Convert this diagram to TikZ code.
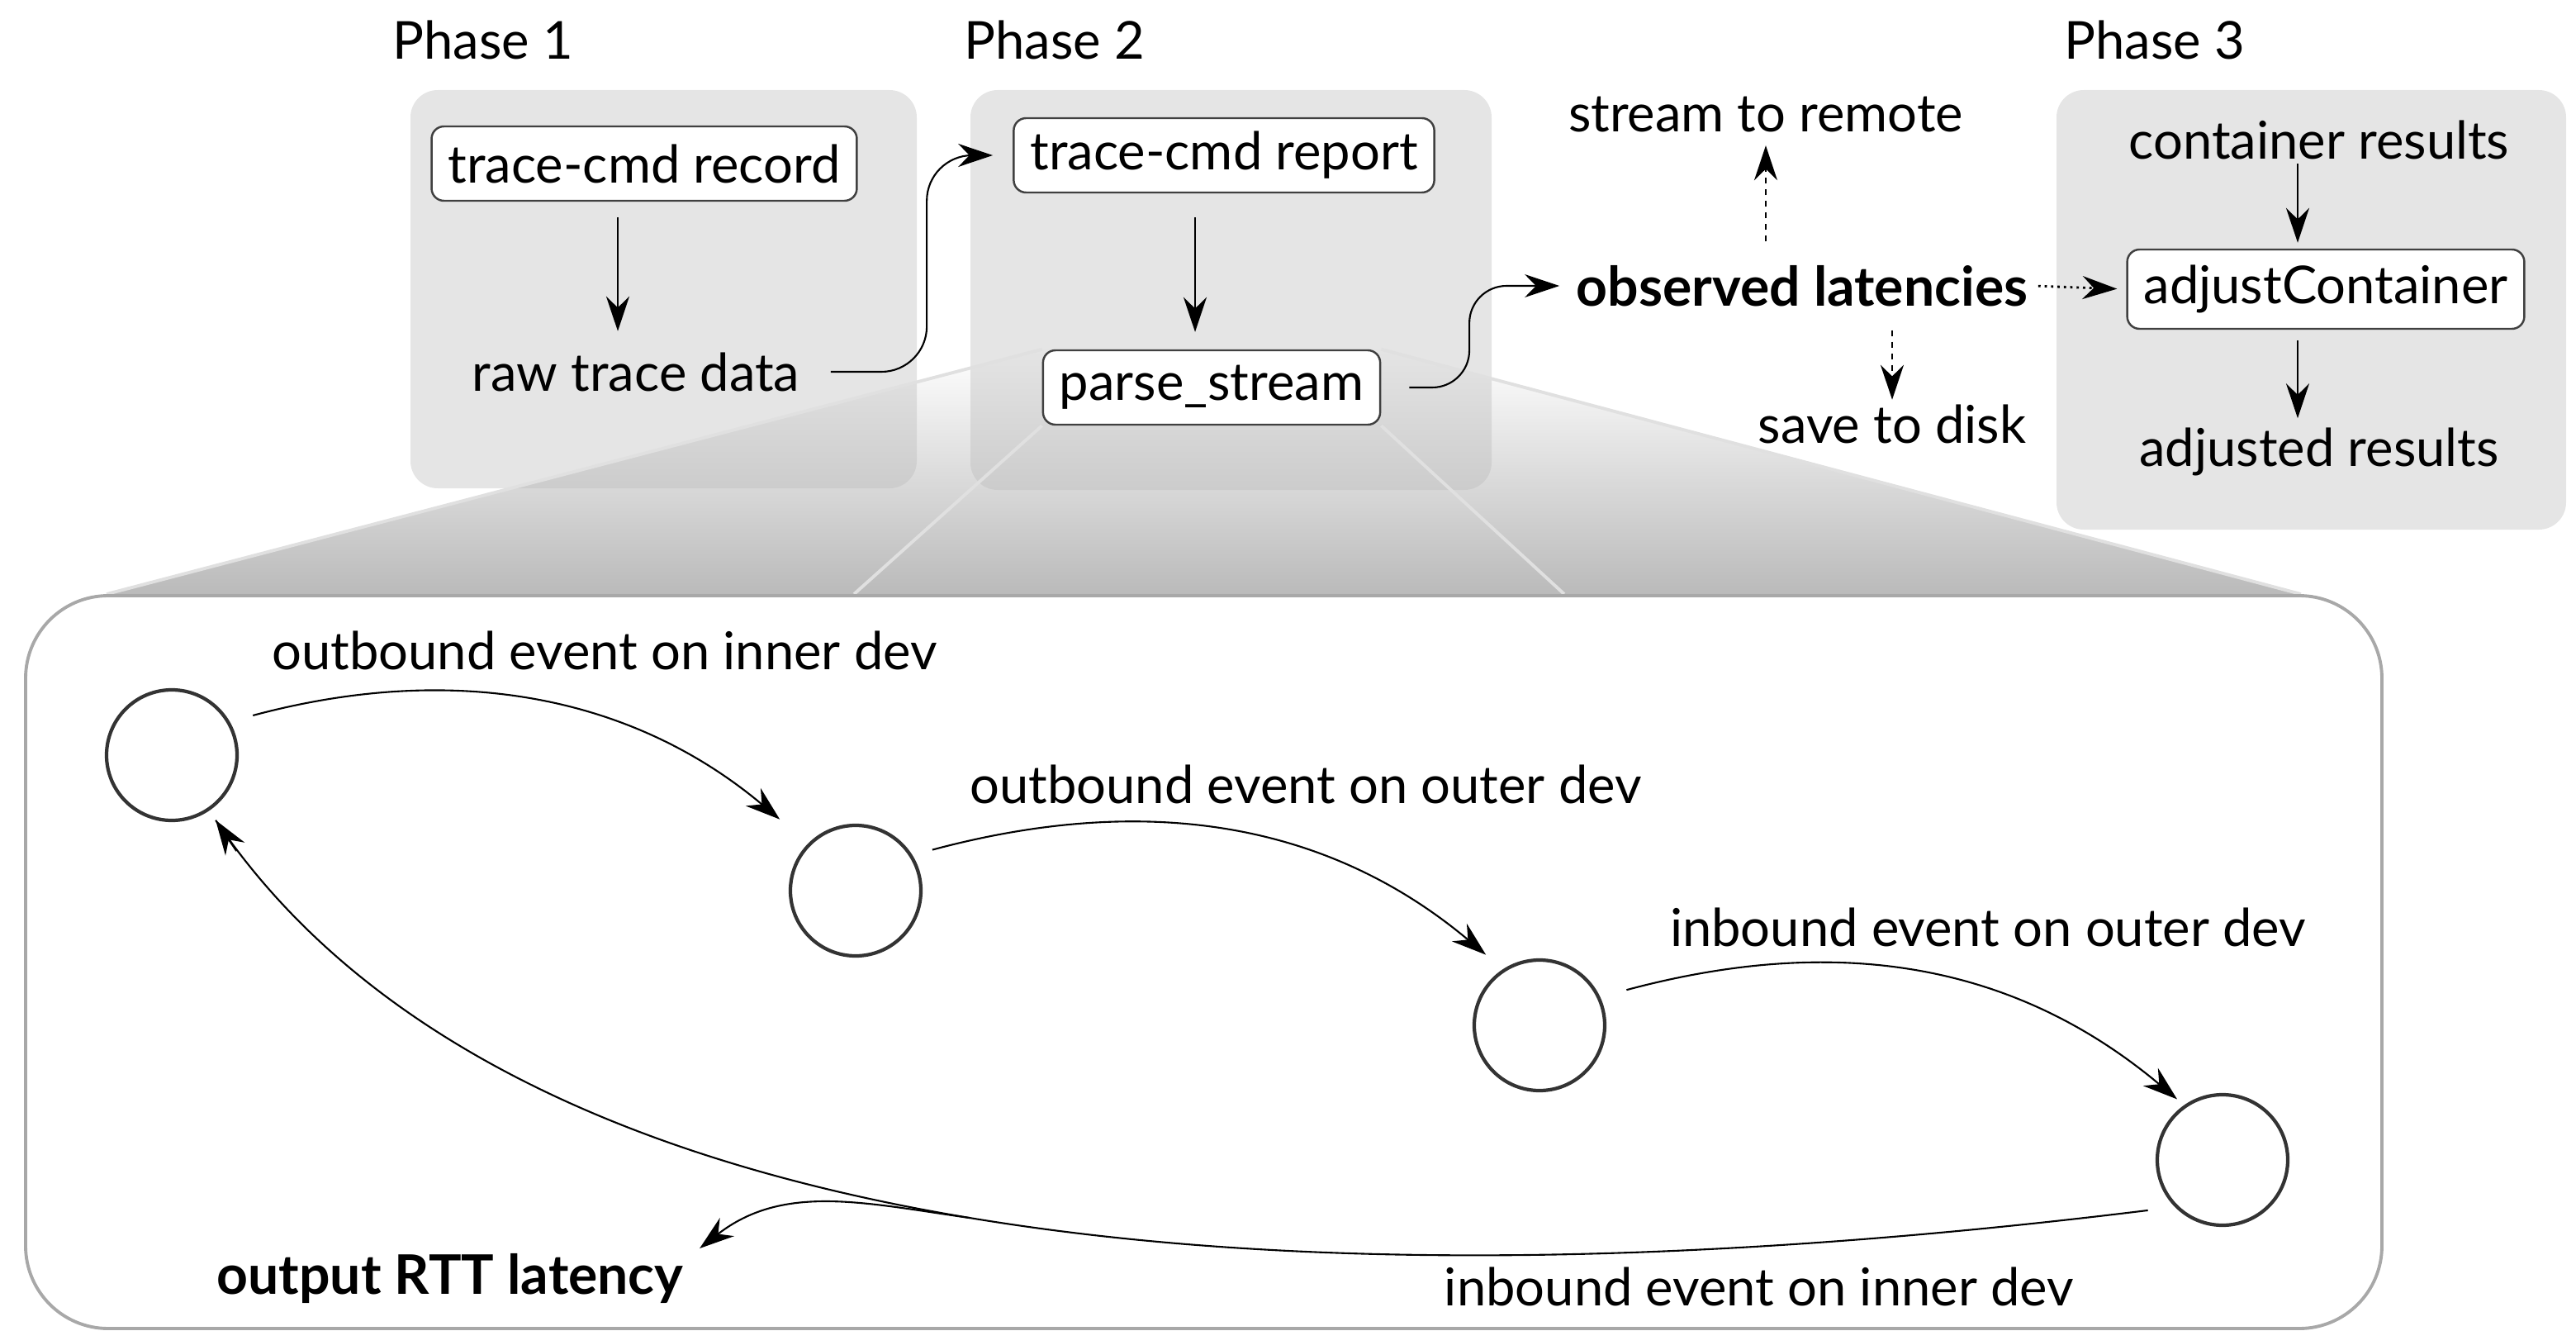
\documentclass[tikz,border=0pt]{standalone}
\usepackage{fontspec}
\setmainfont{Lato}
\usetikzlibrary{arrows.meta, positioning, fadings}

\pgfdeclarelayer{back}
\pgfdeclarelayer{lens}
\pgfsetlayers{back,lens,main}
\tikzfading[name=lensfade, top color=transparent!100, bottom color=transparent!0]

\begin{document}
\begin{tikzpicture}[
    font=\fontsize{18}{22}\selectfont,
    lbl/.style={inner sep=0.5mm},
    strong/.style={lbl, font=\fontsize{18.8}{22}\selectfont\bfseries},
    phase/.style={rectangle, fill=black!10, rounded corners=3.3mm, inner sep=0pt},
    cmd/.style={rectangle, draw=black!75, fill=white, line width=0.7pt, rounded corners=1.5mm, minimum height=0.9cm, inner xsep=2mm},
    state/.style={circle, draw=black!80, line width=1.2pt, minimum size=1.58cm, inner sep=0pt},
    arr/.style={-{Stealth[length=4.2mm, width=2.8mm]}, line width=0.6pt},
    dasharr/.style={arr, line width=0.7pt, dash pattern=on 2pt off 2pt},
    dotarr/.style={arr, line width=0.8pt, dash pattern=on 0.8pt off 1.4pt},
    lensedge/.style={draw=black!12, line width=1.1pt}
]
\useasboundingbox (0,0) rectangle (31.19,-16.11);

% Phase boxes
\begin{pgfonlayer}{back}
\node[phase, minimum width=6.13cm, minimum height=4.82cm] (p1) at (8.035,-3.50) {};
\node[phase, minimum width=6.31cm, minimum height=4.84cm] (p2) at (14.905,-3.51) {};
\node[phase, minimum width=6.17cm, minimum height=5.32cm] (p3) at (27.985,-3.75) {};
\end{pgfonlayer}
\node[lbl, anchor=base west] (p1lbl) at (4.70,-0.72) {Phase 1};
\node[lbl, anchor=base west] (p2lbl) at (11.62,-0.72) {Phase 2};
\node[lbl, anchor=base west] (p3lbl) at (24.94,-0.72) {Phase 3};

% Nodes
\node[cmd] (record) at (7.80,-1.98) {trace-cmd record};
\node[lbl] (raw) at (7.70,-4.50) {raw trace data};
\node[cmd] (report) at (14.82,-1.88) {trace-cmd report};
\node[cmd] (parse) at (14.67,-4.69) {parse\_stream};

\node[strong] (obs) at (21.82,-3.46) {observed latencies};
\node[lbl] (remote) at (21.38,-1.39) {stream to remote};
\node[lbl] (disk) at (22.91,-5.13) {save to disk};

\node[lbl] (contres) at (28.08,-1.69) {container results};
\node[cmd, minimum height=0.96cm] (adjust) at (28.16,-3.50) {adjustContainer};
\node[lbl] (adjres) at (28.08,-5.47) {adjusted results};

% Zoomed detail
\node[draw=black!34, line width=1.1pt, rounded corners=1cm, minimum width=28.53cm, minimum height=8.87cm] (detail) at (14.575,-11.645) {};

\node[state] (c1) at (2.08,-9.14) {};
\node[state] (c2) at (10.36,-10.78) {};
\node[state] (c3) at (18.64,-12.41) {};
\node[state] (c4) at (26.91,-14.04) {};

\node[lbl] (out1) at (7.32,-7.87) {outbound event on inner dev};
\node[lbl] (out2) at (15.81,-9.49) {outbound event on outer dev};
\node[lbl] (in1) at (24.07,-11.22) {inbound event on outer dev};
\node[lbl] (in2) at (21.30,-15.57) {inbound event on inner dev};
\node[strong] (rtt) at (5.45,-15.47) {output RTT latency};

\coordinate (loopstart) at ([shift={(214:1.09)}]c4.center);
\coordinate (loopend) at ([shift={(-56:0.95)}]c1.center);

% Lens
\begin{pgfonlayer}{lens}
\fill[black!27, path fading=lensfade] (parse.north west) -- (parse.north east) -- ([xshift=-1cm]detail.north east) -- ([xshift=1cm]detail.north west) -- cycle;
\draw[lensedge] (parse.north west) -- ([xshift=1cm]detail.north west);
\draw[lensedge] (parse.north east) -- ([xshift=-1cm]detail.north east);
\draw[lensedge] (parse.south west) -- ([xshift=10.05cm]detail.north west);
\draw[lensedge] (parse.south east) -- ([xshift=-9.92cm]detail.north east);
\end{pgfonlayer}

% Arrows
\draw[arr, shorten <=1.9mm, shorten >=2mm] ([xshift=-3.2mm]record.south) -- ([xshift=-3.2mm]record.south |- raw.north);
\draw[arr, shorten <=2.9mm, shorten >=2.1mm] ([xshift=-3.5mm]report.south) -- ([xshift=-3.5mm]report.south |- parse.north);
\draw[arr, rounded corners=5.5mm, shorten <=3.2mm, shorten >=2.4mm] (raw.east) -| ([xshift=-10.4mm]report.west) -- (report.west);
\draw[arr, rounded corners=4.5mm, shorten <=3.4mm, shorten >=1.5mm] (parse.east) -| ([xshift=-12.4mm]obs.west) -- (obs.west);

\draw[dasharr, shorten <=2.3mm, shorten >=1mm] (obs.north -| remote.south) -- (remote.south);
\draw[dasharr, shorten <=2.3mm] (obs.south -| disk.north) -- (disk.north);
\draw[dotarr, shorten <=0.7mm, shorten >=1.1mm] (obs.east) -- (adjust.west);

\draw[arr, shorten >=0.7mm] ([xshift=-2.6mm]contres.south) -- ([xshift=-2.6mm]contres.south |- adjust.north);
\draw[arr, shorten <=1.3mm, shorten >=0.6mm] ([xshift=-3.4mm]adjust.south) -- ([xshift=-3.4mm]adjust.south |- adjres.north);

\draw[arr, shorten <=2.9mm, shorten >=4.5mm] (c1.30) to[out=15, in=140] (c2.135);
\draw[arr, shorten <=2.5mm, shorten >=2.7mm] (c2.32) to[out=15, in=140] (c3.123);
\draw[arr, shorten <=3.3mm, shorten >=1.1mm] (c3.25) to[out=15, in=140] (c4.125);

\draw[line width=0.6pt] (loopstart) to[out=187, in=-56, out looseness=1.12, in looseness=0.68] coordinate[pos=0.5] (split) (loopend);
\draw[arr] ([shift={(-56:0.45)}]loopend) -- (loopend);
\draw[arr] (split) to[out=172, in=38] ([xshift=1.4mm, yshift=3.6mm]rtt.east);

\end{tikzpicture}
\end{document}
